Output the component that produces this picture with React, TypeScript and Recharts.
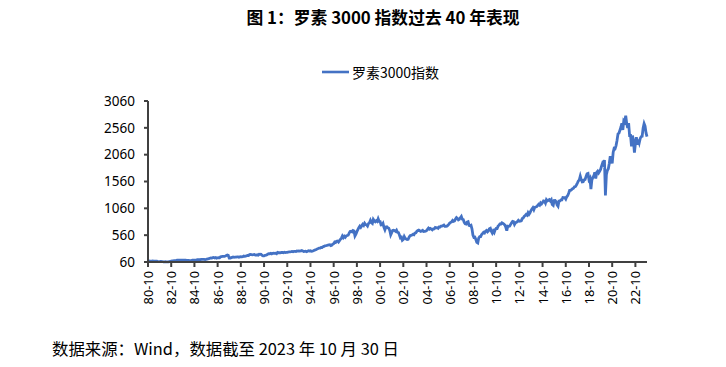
import React from 'react';
import { LineChart, Line, XAxis, YAxis } from 'recharts';

// Monthly index levels, starting 1980-10
const values1980s = [
  73, 80, 77,
  74, 75, 78, 76, 76, 75, 75, 70, 66, 69, 72, 70,
  69, 64, 64, 66, 64, 62, 61, 68, 69, 76, 79, 80,
  83, 84, 87, 94, 93, 96, 93, 94, 95, 93, 95, 94,
  93, 90, 91, 91, 86, 87, 86, 95, 95, 95, 93, 95,
  102, 103, 103, 102, 108, 109, 109, 108, 104, 108, 115, 120,
  121, 129, 136, 134, 141, 143, 135, 144, 132, 139, 142, 140,
  156, 162, 166, 164, 165, 173, 182, 190, 183, 132, 131, 141,
  147, 153, 148, 149, 149, 156, 155, 149, 155, 159, 156, 158,
  170, 165, 168, 176, 183, 181, 197, 200, 199, 194, 197, 201,
];
const values1990s = [
  188, 189, 194, 189, 206, 204, 203, 184, 174, 173, 184, 188,
  196, 209, 214, 214, 222, 212, 221, 225, 221, 224, 214, 238,
  233, 235, 230, 237, 237, 233, 242, 236, 238, 239, 246, 248,
  250, 253, 257, 251, 257, 257, 255, 264, 262, 267, 263, 266,
  275, 266, 254, 257, 260, 253, 261, 271, 264, 269, 259, 262,
  268, 278, 285, 293, 304, 311, 320, 320, 333, 331, 345, 351,
  363, 365, 368, 373, 381, 382, 365, 372, 392, 402, 431, 422,
  448, 451, 432, 457, 484, 505, 544, 513, 540, 521, 545, 553,
  559, 598, 628, 634, 622, 646, 639, 546, 580, 626, 663, 701,
  729, 706, 733, 761, 742, 782, 757, 753, 731, 777, 792, 837,
];
const values2000s = [
  795, 779, 854, 828, 810, 829, 816, 865, 819, 815, 750, 753,
  779, 707, 661, 712, 716, 698, 690, 646, 565, 604, 650, 654,
  644, 631, 654, 614, 608, 564, 510, 522, 465, 480, 534, 501,
  488, 479, 483, 523, 549, 555, 564, 575, 568, 599, 603, 634,
  645, 653, 642, 631, 639, 650, 628, 629, 635, 644, 669, 691,
  673, 686, 673, 659, 679, 679, 703, 696, 700, 688, 712, 712,
  730, 730, 738, 747, 724, 724, 728, 743, 761, 785, 798, 808,
  834, 816, 824, 860, 888, 872, 844, 855, 886, 910, 859, 852,
  800, 772, 767, 804, 812, 742, 735, 744, 677, 562, 520, 524,
  479, 426, 415, 506, 533, 533, 573, 592, 613, 601, 635, 647,
];
const values2010s = [
  623, 641, 678, 688, 632, 598, 639, 609, 662, 686, 685, 729,
  746, 770, 769, 791, 780, 766, 750, 707, 645, 727, 723, 729,
  761, 792, 817, 811, 760, 790, 800, 816, 836, 819, 821, 827,
  869, 879, 910, 927, 946, 932, 978, 947, 975, 1019, 1047, 1072,
  1034, 1079, 1086, 1093, 1116, 1137, 1120, 1162, 1144, 1170, 1199, 1194,
  1157, 1221, 1199, 1210, 1222, 1197, 1220, 1130, 1114, 1206, 1207, 1185,
  1125, 1100, 1195, 1198, 1216, 1217, 1261, 1259, 1258, 1233, 1275, 1299,
  1340, 1395, 1395, 1410, 1425, 1435, 1462, 1465, 1495, 1530, 1570, 1590,
  1660, 1595, 1552, 1556, 1590, 1598, 1655, 1705, 1712, 1594, 1622, 1420,
  1589, 1636, 1666, 1731, 1617, 1729, 1752, 1719, 1749, 1785, 1846, 1899,
];
const values2020s = [
  1871, 1960, 1300, 1689, 1766, 1798, 1897, 2030, 1951, 1897, 2100, 2179,
  2173, 2229, 2324, 2446, 2459, 2514, 2571, 2646, 2520, 2694, 2672, 2788,
  2642, 2559, 2650, 2417, 2417, 2214, 2416, 2314, 2098, 2265, 2387, 2246,
  2344, 2283, 2363, 2397, 2403, 2559, 2639, 2592, 2466, 2396,
];

const startYear = 1980;
const startMonth = 10;

const tickLabels = [
  '80-10', '82-10', '84-10', '86-10', '88-10', '90-10', '92-10', '94-10',
  '96-10', '98-10', '00-10', '02-10', '04-10', '06-10', '08-10', '10-10',
  '12-10', '14-10', '16-10', '18-10', '20-10', '22-10',
];
const yTicks = [60, 560, 1060, 1560, 2060, 2560, 3060];

const seriesName = '罗素3000指数';
const titleText = '图 1：罗素 3000 指数过去 40 年表现';
const sourceText = '数据来源：Wind，数据截至 2023 年 10 月 30 日';

const allValues = [...values1980s, ...values1990s, ...values2000s, ...values2010s, ...values2020s];
const data = allValues.map((v, i) => {
  const m0 = startMonth - 1 + i;
  const year = startYear + Math.floor(m0 / 12);
  const month = (m0 % 12) + 1;
  const label = `${String(year % 100).padStart(2, '0')}-${String(month).padStart(2, '0')}`;
  return { label, value: v };
});

const BLUE = '#4472C4';
const AXIS = '#404040';
const NUM_FONT = '"Noto Sans", "DejaVu Sans", sans-serif';
const CJK_FONT = '"Noto Sans CJK SC", "Noto Sans", sans-serif';

const XTick = (props: any) => {
  const { x, y, payload } = props;
  return (
    <text
      x={x}
      y={y}
      transform={`rotate(-90, ${x}, ${y})`}
      textAnchor="end"
      dominantBaseline="central"
      fontSize={12.8}
      fontFamily={NUM_FONT}
      fill="#000"
    >
      {payload.value}
    </text>
  );
};

export default function App() {
  return (
    <div style={{ position: 'absolute', left: 0, top: 0, width: 726, height: 367, background: '#fff', overflow: 'hidden' }}>
      <div
        style={{
          position: 'absolute',
          left: 383,
          top: 17,
          transform: 'translate(-50%, -50%)',
          whiteSpace: 'nowrap',
          fontFamily: CJK_FONT,
          fontWeight: 600,
          fontSize: 16.8,
          color: '#000',
          lineHeight: 1,
        }}
      >
        {titleText}
      </div>
      <div style={{ position: 'absolute', left: 322, top: 63, height: 18, display: 'flex', alignItems: 'center', whiteSpace: 'nowrap' }}>
        <svg width={27} height={18} style={{ display: 'block' }}>
          <line x1={0} y1={9} x2={27} y2={9} stroke={BLUE} strokeWidth={2.6} />
        </svg>
        <span style={{ marginLeft: 3, fontFamily: CJK_FONT, fontSize: 14, color: '#000', lineHeight: 1 }}>{seriesName}</span>
      </div>
      <div style={{ position: 'absolute', left: 0, top: 0 }}>
        <LineChart width={726} height={367} data={data} margin={{ top: 101, right: 79, bottom: 0, left: 0 }}>
          <XAxis
            dataKey="label"
            ticks={tickLabels}
            interval={0}
            height={105}
            tick={<XTick />}
            tickSize={5}
            tickMargin={4}
            axisLine={{ stroke: AXIS, strokeWidth: 2 }}
            tickLine={{ stroke: AXIS, strokeWidth: 2 }}
          />
          <YAxis
            domain={[60, 3060]}
            ticks={yTicks}
            interval={0}
            width={148}
            tickSize={4}
            tickMargin={9}
            axisLine={{ stroke: AXIS, strokeWidth: 2 }}
            tickLine={{ stroke: AXIS, strokeWidth: 2 }}
            tick={{ fontSize: 13.5, fontFamily: NUM_FONT, fill: '#000' }}
          />
          <Line
            type="linear"
            dataKey="value"
            name={seriesName}
            stroke={BLUE}
            strokeWidth={2.8}
            dot={false}
            activeDot={false}
            isAnimationActive={false}
          />
        </LineChart>
      </div>
      <div
        style={{
          position: 'absolute',
          left: 52,
          top: 348,
          transform: 'translateY(-50%)',
          whiteSpace: 'nowrap',
          fontFamily: CJK_FONT,
          fontSize: 16.4,
          color: '#000',
          lineHeight: 1,
        }}
      >
        {sourceText}
      </div>
    </div>
  );
}
